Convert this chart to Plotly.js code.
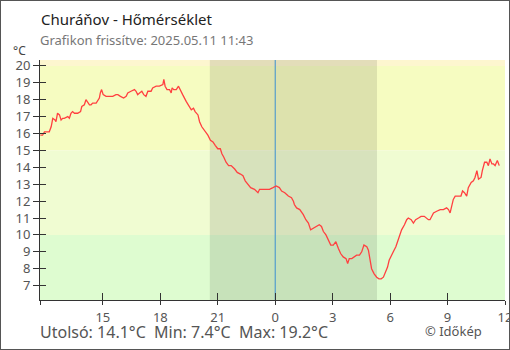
<!DOCTYPE html>
<html><head><meta charset="utf-8">
<script src="https://cdn.plot.ly/plotly-3.0.1.min.js"></script>
<style>
html,body{margin:0;padding:0;background:#fff}
#wrap{position:relative;width:510px;height:350px;overflow:hidden}
#chart{width:510px;height:350px}
#frame{position:absolute;left:0;top:0;width:510px;height:350px;border:1px solid #555;box-sizing:border-box;pointer-events:none}
</style>
</head><body><div id="wrap"><div id="chart"></div><div id="frame"></div></div>
<script>
const startDay = '2025-05-10';
const endDay = '2025-05-11';
const xStart = '2025-05-10 11:43';
const xEnd = '2025-05-11 12:00';
const sunset = '2025-05-10 20:35';
const sunrise = '2025-05-11 05:19';
const midnight = '2025-05-11 00:00';

const times = ['11:44','11:51','11:57','12:02','12:12','12:18','12:23','12:30','12:33','12:38','12:44','12:49','12:54','12:59',
'13:10','13:15','13:20','13:25','13:31','13:41','13:50','13:54','14:02','14:07','14:13','14:18','14:23','14:28','14:39','14:44',
'14:49','14:52','14:56','15:01','15:10','15:20','15:31','15:41','15:47','15:55','16:05','16:13','16:18','16:28','16:39','16:44',
'16:49','16:55','17:02','17:08','17:15','17:21','17:31','17:36','17:47','17:57','18:08','18:11','18:15','18:21','18:29','18:34',
'18:37','18:42','18:50','18:57','19:03','19:10','19:21','19:31','19:37','19:44','19:49','19:58','20:03','20:10','20:18','20:29',
'20:37','20:45','20:52','21:00','21:08','21:13','21:19','21:26','21:34','21:42','21:53','22:01','22:11','22:19','22:26','22:34',
'22:43','22:55','23:06','23:11','23:25','23:42','23:53',
'00:03','00:13','00:20','00:30','00:41','00:51','00:57','01:00','01:07','01:17','01:28','01:36','01:44','01:51','01:59','02:08',
'02:18','02:25','02:31','02:39','02:46','02:54','03:02','03:10','03:18','03:25','03:33','03:42','03:47','03:52','04:00','04:07',
'04:15','04:24','04:31','04:38','04:47','04:52','04:57','05:02','05:10','05:18','05:25','05:32','05:39','05:46','05:52','05:57',
'06:03','06:10','06:18','06:24','06:31','06:36','06:45','06:52','06:57','07:06','07:13','07:20','07:29','07:37','07:47','07:55',
'08:00','08:05','08:10','08:16','08:26','08:37','08:47','08:57','09:03','09:08','09:13','09:18','09:24','09:34','09:42','09:47',
'09:53','10:00','10:05','10:14','10:21','10:26','10:32','10:37','10:45','10:49','10:56','11:03','11:08','11:13','11:19','11:24',
'11:29','11:36','11:42'];

const temps = [15.9,15.9,16.1,16.1,16.1,16.4,16.9,16.8,16.7,17.2,17.1,16.8,16.9,16.9,
17.0,16.9,17.2,17.3,17.2,17.2,17.3,17.6,17.7,18.0,17.8,17.7,17.7,17.8,17.8,18.0,
18.1,18.4,18.6,18.3,18.2,18.2,18.2,18.3,18.3,18.2,18.1,18.2,18.4,18.5,18.6,18.5,
18.3,18.4,18.5,18.3,18.2,18.5,18.5,18.7,18.8,18.8,18.9,19.2,18.8,18.6,18.6,18.4,
18.7,18.6,18.6,18.8,18.6,18.3,17.9,17.6,17.4,17.5,17.3,17.1,16.7,16.4,16.2,15.9,
15.6,15.5,15.3,15.1,15.1,14.8,14.6,14.3,14.1,14.1,13.9,13.7,13.6,13.5,13.2,13.0,
12.8,12.7,12.5,12.7,12.7,12.7,12.8,
12.9,12.8,12.6,12.5,12.3,12.2,12.0,11.8,11.6,11.5,11.2,10.9,10.7,10.3,10.4,10.5,
10.6,10.5,10.2,10.0,9.7,9.4,9.4,9.6,9.2,8.9,8.7,8.6,8.3,8.6,8.6,8.7,
8.8,8.8,9.0,9.4,9.3,9.1,8.6,8.0,7.7,7.5,7.4,7.4,7.5,7.8,8.1,8.5,
8.7,9.0,9.3,9.6,10.0,10.3,10.6,10.9,11.0,10.9,10.7,10.9,11.0,11.1,11.1,11.0,
10.9,10.9,11.1,11.3,11.4,11.5,11.5,11.6,11.5,11.3,11.7,12.1,12.3,12.3,12.3,12.6,
12.5,12.3,12.8,13.1,13.2,13.4,13.8,13.3,13.4,13.8,14.3,14.3,14.1,14.5,14.2,14.2,
14.1,14.4,14.1];

const tickTimes = ['2025-05-10 11:43','2025-05-10 15:00','2025-05-10 18:00','2025-05-10 21:00','2025-05-11 00:00',
'2025-05-11 03:00','2025-05-11 06:00','2025-05-11 09:00','2025-05-11 12:00'];
const tickLabels = ['','15','18','21','0','3','6','9','12'];
const yTickVals = [7,8,9,10,11,12,13,14,15,16,17,18,19,20];
const yTickLabels = ['7','8','9','10','11','12','13','14','15','16','17','18','19','20'];

const titleText = 'Churáňov - Hőmérséklet';
const subtitleText = 'Grafikon frissítve: 2025.05.11 11:43';
const unitText = '°C';
const creditText = '© Időkép';

// build timestamps, switching day after midnight wrap
const xs = [];
let day = startDay, prev = '';
times.forEach(t => { if (prev && t < prev) day = endDay; xs.push(day + ' ' + t); prev = t; });

const last = temps[temps.length - 1];
const mn = Math.min(...temps), mx = Math.max(...temps);
const sp = '\u00a0\u00a0';
const statsText = 'Utolsó: ' + last.toFixed(1) + '°C' + sp + 'Min: ' + mn.toFixed(1) + '°C' + sp + 'Max: ' + mx.toFixed(1) + '°C';

const FONT = 'Noto Sans, Open Sans, sans-serif';
const yRange = [6.15, 20.35];

const traces = [
  {x: xs, y: temps, type: 'scatter', mode: 'lines', line: {color: '#ff4040', width: 1.3}, hoverinfo: 'skip', showlegend: false},
  {x: xs, y: temps, xaxis: 'x2', yaxis: 'y2', type: 'scatter', mode: 'lines', line: {color: 'rgba(0,0,0,0)', width: 0}, hoverinfo: 'skip', showlegend: false}
];

const axisCommon = {showgrid: false, zeroline: false, linecolor: '#333', linewidth: 1, tickcolor: '#333', tickwidth: 1,
  tickfont: {family: FONT, size: 13, color: '#555'}};

const layout = {
  width: 510, height: 350,
  margin: {l: 40, r: 5, t: 60, b: 50},
  paper_bgcolor: '#fff', plot_bgcolor: '#fff',
  showlegend: false,
  xaxis: Object.assign({}, axisCommon, {type: 'date', range: [xStart, xEnd], tickmode: 'array', tickvals: tickTimes, ticktext: tickLabels,
    ticks: 'outside', ticklen: 4, ticklabelstandoff: 1, ticklabeloverflow: 'allow', showline: true, fixedrange: true}),
  yaxis: Object.assign({}, axisCommon, {range: yRange, tickmode: 'array', tickvals: yTickVals, ticktext: yTickLabels,
    ticks: 'outside', ticklen: 6, showline: true, fixedrange: true}),
  xaxis2: Object.assign({}, axisCommon, {type: 'date', overlaying: 'x', matches: 'x', anchor: 'y', side: 'bottom', range: [xStart, xEnd],
    tickmode: 'array', tickvals: tickTimes, ticks: 'inside', ticklen: 7, showticklabels: false, showline: false}),
  yaxis2: Object.assign({}, axisCommon, {overlaying: 'y', matches: 'y', anchor: 'x', side: 'left', range: yRange,
    tickmode: 'array', tickvals: yTickVals, ticks: 'inside', ticklen: 6, showticklabels: false, showline: false}),
  shapes: [
    {type: 'rect', xref: 'paper', yref: 'y', x0: 0, x1: 1, y0: 20, y1: yRange[1], fillcolor: '#fdf6cf', line: {width: 0}, layer: 'below'},
    {type: 'rect', xref: 'paper', yref: 'y', x0: 0, x1: 1, y0: 15, y1: 20, fillcolor: '#f6fcc1', line: {width: 0}, layer: 'below'},
    {type: 'rect', xref: 'paper', yref: 'y', x0: 0, x1: 1, y0: 10, y1: 15, fillcolor: '#f0fcd2', line: {width: 0}, layer: 'below'},
    {type: 'rect', xref: 'paper', yref: 'y', x0: 0, x1: 1, y0: yRange[0], y1: 10, fillcolor: '#defcd0', line: {width: 0}, layer: 'below'},
    {type: 'rect', xref: 'x', yref: 'paper', x0: sunset, x1: sunrise, y0: 0, y1: 1, fillcolor: 'rgba(0,0,0,0.1)', line: {width: 0}, layer: 'below'},
    {type: 'line', xref: 'x', yref: 'paper', x0: midnight, x1: midnight, y0: 0, y1: 1, line: {color: '#3a8fd0', width: 1}, layer: 'below'}
  ],
  annotations: [
    {text: titleText, xref: 'paper', yref: 'paper', x: -0.003, y: 1.17, xanchor: 'left', yanchor: 'middle', showarrow: false,
      font: {family: FONT, size: 15, color: '#222'}},
    {text: subtitleText, xref: 'paper', yref: 'paper', x: -0.005, y: 1.082, xanchor: 'left', yanchor: 'middle', showarrow: false,
      font: {family: FONT, size: 13, color: '#777'}},
    {text: unitText, xref: 'paper', yref: 'paper', x: -0.045, y: 1.04, xanchor: 'center', yanchor: 'middle', showarrow: false,
      font: {family: FONT, size: 12, color: '#444'}},
    {text: statsText, xref: 'paper', yref: 'paper', x: -0.005, y: -0.135, xanchor: 'left', yanchor: 'middle', showarrow: false,
      font: {family: FONT, size: 16, color: '#555'}},
    {text: creditText, xref: 'paper', yref: 'paper', x: 0.889, y: -0.131, xanchor: 'center', yanchor: 'middle', showarrow: false,
      font: {family: FONT, size: 13, color: '#555'}}
  ]
};

Plotly.newPlot('chart', traces, layout, {staticPlot: true, displayModeBar: false});
</script>
</body></html>
